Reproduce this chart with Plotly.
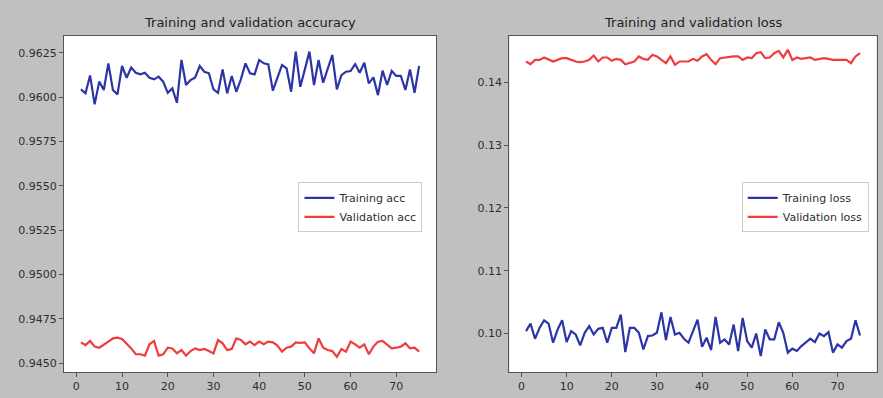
import plotly.graph_objects as go

epochs = list(range(1, 76))

train_acc = [0.96043, 0.96021, 0.96122, 0.95959, 0.96087, 0.96040, 0.96190, 0.96040, 0.96015, 0.96175,
             0.96109, 0.96167, 0.96137, 0.96128, 0.96137, 0.96109, 0.96100, 0.96115, 0.96087, 0.96024,
             0.96049, 0.95968, 0.96209, 0.96068, 0.96096, 0.96111, 0.96175, 0.96143, 0.96134, 0.96043,
             0.96024, 0.96156, 0.96021, 0.96119, 0.96030, 0.96100, 0.96190, 0.96134, 0.96128, 0.96209,
             0.96190, 0.96184, 0.96036, 0.96105, 0.96181, 0.96162, 0.96030, 0.96256, 0.96058, 0.96156,
             0.96256, 0.96068, 0.96209, 0.96081, 0.96162, 0.96237, 0.96043, 0.96124, 0.96143, 0.96147,
             0.96186, 0.96137, 0.96194, 0.96077, 0.96111, 0.96011, 0.96149, 0.96068, 0.96147, 0.96119,
             0.96119, 0.96040, 0.96156, 0.96024, 0.96175]

val_acc = [0.94618, 0.94603, 0.94626, 0.94594, 0.94588, 0.94603, 0.94622, 0.94641, 0.94645, 0.94637,
           0.94613, 0.94584, 0.94551, 0.94551, 0.94543, 0.94607, 0.94626, 0.94543, 0.94551, 0.94588,
           0.94584, 0.94556, 0.94575, 0.94543, 0.94569, 0.94584, 0.94575, 0.94581, 0.94569, 0.94556,
           0.94631, 0.94613, 0.94575, 0.94581, 0.94641, 0.94631, 0.94607, 0.94622, 0.94603, 0.94622,
           0.94607, 0.94622, 0.94618, 0.94600, 0.94566, 0.94588, 0.94594, 0.94618, 0.94615, 0.94618,
           0.94584, 0.94556, 0.94641, 0.94588, 0.94575, 0.94569, 0.94537, 0.94581, 0.94566, 0.94622,
           0.94607, 0.94588, 0.94607, 0.94551, 0.94594, 0.94622, 0.94626, 0.94607, 0.94584, 0.94588,
           0.94594, 0.94613, 0.94584, 0.94588, 0.94566]

train_loss = [0.10037, 0.10158, 0.09916, 0.10089, 0.10211, 0.10158, 0.09853, 0.10063, 0.10211, 0.09863,
              0.10037, 0.09984, 0.09811, 0.10011, 0.10116, 0.09984, 0.10074, 0.10089, 0.09853, 0.10089,
              0.10089, 0.10300, 0.09705, 0.10089, 0.10089, 0.10011, 0.09747, 0.09958, 0.09968, 0.10011,
              0.10337, 0.09895, 0.10263, 0.09984, 0.10011, 0.09916, 0.09853, 0.10053, 0.10221, 0.09789,
              0.09932, 0.09737, 0.10263, 0.09853, 0.09905, 0.09826, 0.10142, 0.09721, 0.10247, 0.09879,
              0.09774, 0.10000, 0.09642, 0.10063, 0.09905, 0.09905, 0.10179, 0.10011, 0.09695, 0.09758,
              0.09721, 0.09800, 0.09853, 0.09916, 0.09863, 0.10000, 0.09958, 0.10021, 0.09695, 0.09826,
              0.09774, 0.09879, 0.09916, 0.10211, 0.09968]

val_loss = [0.14335, 0.14292, 0.14361, 0.14361, 0.14399, 0.14361, 0.14335, 0.14361, 0.14388, 0.14388,
            0.14361, 0.14335, 0.14324, 0.14335, 0.14361, 0.14430, 0.14335, 0.14399, 0.14399, 0.14346,
            0.14377, 0.14361, 0.14292, 0.14308, 0.14335, 0.14415, 0.14377, 0.14361, 0.14441, 0.14415,
            0.14361, 0.14308, 0.14415, 0.14282, 0.14335, 0.14335, 0.14335, 0.14377, 0.14346, 0.14415,
            0.14452, 0.14361, 0.14292, 0.14388, 0.14399, 0.14415, 0.14415, 0.14415, 0.14361, 0.14399,
            0.14388, 0.14468, 0.14484, 0.14388, 0.14399, 0.14468, 0.14505, 0.14399, 0.14521, 0.14361,
            0.14399, 0.14377, 0.14388, 0.14399, 0.14361, 0.14377, 0.14388, 0.14377, 0.14361, 0.14361,
            0.14361, 0.14361, 0.14308, 0.14415, 0.14468]

acc_ticks = [0.9450, 0.9475, 0.9500, 0.9525, 0.9550, 0.9575, 0.9600, 0.9625]
loss_ticks = [0.10, 0.11, 0.12, 0.13, 0.14]
x_ticks = [0, 10, 20, 30, 40, 50, 60, 70]

BLUE = "#2b35a6"
RED = "#f03c3c"
FONT = "DejaVu Sans"
TXT = "#2e2e2e"

fig = go.Figure()
fig.add_trace(go.Scatter(x=epochs, y=train_acc, mode="lines", name="Training acc",
                         line=dict(color=BLUE, width=2.2), xaxis="x", yaxis="y", legend="legend"))
fig.add_trace(go.Scatter(x=epochs, y=val_acc, mode="lines", name="Validation acc",
                         line=dict(color=RED, width=2.2), xaxis="x", yaxis="y", legend="legend"))
fig.add_trace(go.Scatter(x=epochs, y=train_loss, mode="lines", name="Training loss",
                         line=dict(color=BLUE, width=2.2), xaxis="x2", yaxis="y2", legend="legend2"))
fig.add_trace(go.Scatter(x=epochs, y=val_loss, mode="lines", name="Validation loss",
                         line=dict(color=RED, width=2.2), xaxis="x2", yaxis="y2", legend="legend2"))

axis_common = dict(showgrid=False, zeroline=False, showline=True, linecolor="#555555", linewidth=1,
                   mirror=True, ticks="outside", ticklen=4, tickcolor="#555555",
                   tickfont=dict(family=FONT, size=11, color=TXT))

fig.update_layout(
    width=883, height=398,
    margin=dict(l=0, r=0, t=0, b=0),
    paper_bgcolor="#c0c0c0",
    plot_bgcolor="white",
    font=dict(family=FONT, color=TXT),
    xaxis=dict(domain=[0.0725, 0.4938], range=[-2.7, 78.7], tickvals=x_ticks, anchor="y", **axis_common),
    yaxis=dict(domain=[0.0653, 0.9095], range=[0.94451, 0.96344], tickvals=acc_ticks,
               tickformat=".4f", anchor="x", **axis_common),
    xaxis2=dict(domain=[0.5768, 0.9929], range=[-2.7, 78.7], tickvals=x_ticks, anchor="y2", **axis_common),
    yaxis2=dict(domain=[0.0653, 0.9095], range=[0.09386, 0.14741], tickvals=loss_ticks,
                tickformat=".2f", anchor="x2", **axis_common),
    legend=dict(x=0.338, y=0.542, xanchor="left", yanchor="top", bgcolor="white",
                bordercolor="#cccccc", borderwidth=1, font=dict(family=FONT, size=11, color=TXT),
                itemwidth=30, tracegroupgap=0),
    legend2=dict(x=0.840, y=0.542, xanchor="left", yanchor="top", bgcolor="white",
                 bordercolor="#cccccc", borderwidth=1, font=dict(family=FONT, size=11, color=TXT),
                 itemwidth=30, tracegroupgap=0),
    annotations=[
        dict(text="Training and validation accuracy", x=(0.0725 + 0.4938) / 2, y=0.943,
             xref="paper", yref="paper", xanchor="center", yanchor="middle", showarrow=False,
             font=dict(family=FONT, size=13, color="#222222")),
        dict(text="Training and validation loss", x=(0.5768 + 0.9929) / 2, y=0.943,
             xref="paper", yref="paper", xanchor="center", yanchor="middle", showarrow=False,
             font=dict(family=FONT, size=13, color="#222222")),
    ],
)

fig.write_html("out.html",
               config={"displayModeBar": False},
               post_script="document.body.style.margin='0';document.body.style.padding='0';"
                           "document.body.style.overflow='hidden';")
